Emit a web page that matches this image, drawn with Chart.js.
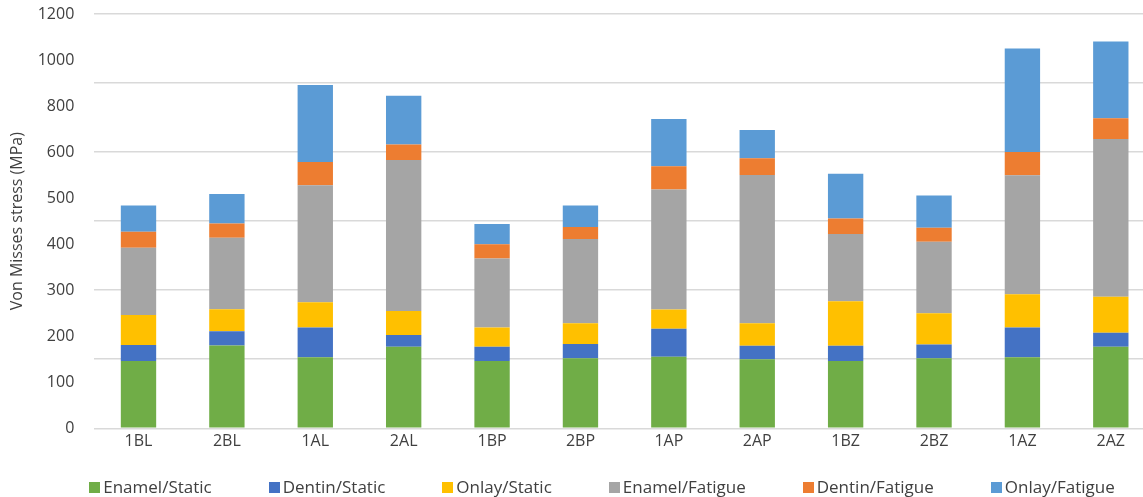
<!DOCTYPE html>
<html>
<head>
<meta charset="utf-8">
<script src="https://cdn.jsdelivr.net/npm/chart.js@4.4.1/dist/chart.umd.min.js"></script>
<style>
  html, body { margin: 0; padding: 0; background: #fff; overflow: hidden; width: 1143px; height: 497px; }
  #wrap { position: relative; width: 1204px; height: 497px; }
  #chart { position: absolute; left: 0; top: 0; }
  #legend {
    position: absolute; left: 0; top: 476px; width: 1204px;
    display: flex; justify-content: center; align-items: baseline; gap: 57px;
    font-family: "Open Sans", sans-serif; font-size: 17px; line-height: 22px; color: #404040;
    white-space: nowrap;
  }
  #legend .sw { display: inline-block; width: 11px; height: 11px; margin-right: 3px; }
</style>
</head>
<body>
<div id="wrap">
  <canvas id="chart" width="1204" height="497"></canvas>
  <div id="legend"></div>
</div>
<script>
// Specimen groups along the category axis
const categories = ['1BL', '2BL', '1AL', '2AL', '1BP', '2BP', '1AP', '2AP', '1BZ', '2BZ', '1AZ', '2AZ'];

// Stacked stress components per specimen (MPa)
const enamelStatic  = [195, 240, 206, 236, 195, 203, 207, 200, 195, 203, 206, 236];
const dentinStatic  = [46, 41, 86, 34, 41, 41, 81, 39, 44, 40, 86, 41];
const onlayStatic   = [87, 64, 73, 70, 56, 60, 56, 65, 129, 90, 96, 104];
const enamelFatigue = [195, 207, 339, 437, 200, 244, 348, 430, 195, 207, 345, 457];
const dentinFatigue = [46, 41, 67, 45, 41, 35, 67, 48, 45, 41, 67, 60];
const onlayFatigue  = [76, 86, 223, 141, 59, 62, 137, 82, 129, 93, 300, 222];

// Value-axis labels, spread evenly over the axis
const tickLabels = [0, 100, 200, 300, 400, 500, 600, 800, 1000, 1200];
const axisMax = 1200;
const gridStep = 200;

const series = [
  { name: 'Enamel/Static',  values: enamelStatic,  color: '#70AD47' },
  { name: 'Dentin/Static',  values: dentinStatic,  color: '#4472C4' },
  { name: 'Onlay/Static',   values: onlayStatic,   color: '#FFC000' },
  { name: 'Enamel/Fatigue', values: enamelFatigue, color: '#A5A5A5' },
  { name: 'Dentin/Fatigue', values: dentinFatigue, color: '#ED7D31' },
  { name: 'Onlay/Fatigue',  values: onlayFatigue,  color: '#5B9BD5' }
];

const textColor = '#404040';
const baseFont = { family: '"Open Sans", sans-serif', size: 16 };

const chart = new Chart(document.getElementById('chart'), {
  type: 'bar',
  data: {
    labels: categories,
    datasets: series.map(s => ({
      label: s.name,
      data: s.values,
      backgroundColor: s.color,
      borderWidth: 0,
      categoryPercentage: 1,
      barPercentage: 0.4,
      yAxisID: 'y'
    }))
  },
  options: {
    responsive: false,
    animation: false,
    layout: { padding: { left: 0, right: 49, top: 14, bottom: 0 } },
    plugins: { legend: { display: false }, tooltip: { enabled: false } },
    scales: {
      x: {
        stacked: true,
        grid: { display: false, drawTicks: false },
        border: { display: false },
        ticks: { color: textColor, font: baseFont, padding: 4, maxRotation: 0 },
        afterFit(scale) { scale.height = 68.7; }
      },
      y: {
        stacked: true,
        min: 0,
        max: axisMax,
        ticks: { display: false, stepSize: gridStep },
        grid: { color: '#D9D9D9', lineWidth: 1.6, drawTicks: false },
        border: { display: false }
      },
      yl: {
        position: 'left',
        min: 0,
        max: axisMax,
        afterBuildTicks(scale) {
          scale.ticks = tickLabels.map((_, i) => ({ value: i * axisMax / (tickLabels.length - 1) }));
        },
        ticks: {
          color: textColor,
          font: baseFont,
          padding: 0,
          callback: (value, index) => String(tickLabels[index])
        },
        // hidden grid; the tick length only spaces the labels away from the plot
        grid: { display: false, drawTicks: true, tickLength: 20 },
        border: { display: false },
        title: {
          display: true,
          text: 'Von Misses stress (MPa)',
          color: textColor,
          font: baseFont,
          padding: { top: 8, bottom: 0 }
        },
        afterFit(scale) { scale.width = 94.3; }
      }
    }
  }
});

// Legend row beneath the chart, built from the datasets
const legend = document.getElementById('legend');
chart.data.datasets.forEach(ds => {
  const item = document.createElement('div');
  const sw = document.createElement('span');
  sw.className = 'sw';
  sw.style.background = ds.backgroundColor;
  item.appendChild(sw);
  item.appendChild(document.createTextNode(ds.label));
  legend.appendChild(item);
});
</script>
</body>
</html>
